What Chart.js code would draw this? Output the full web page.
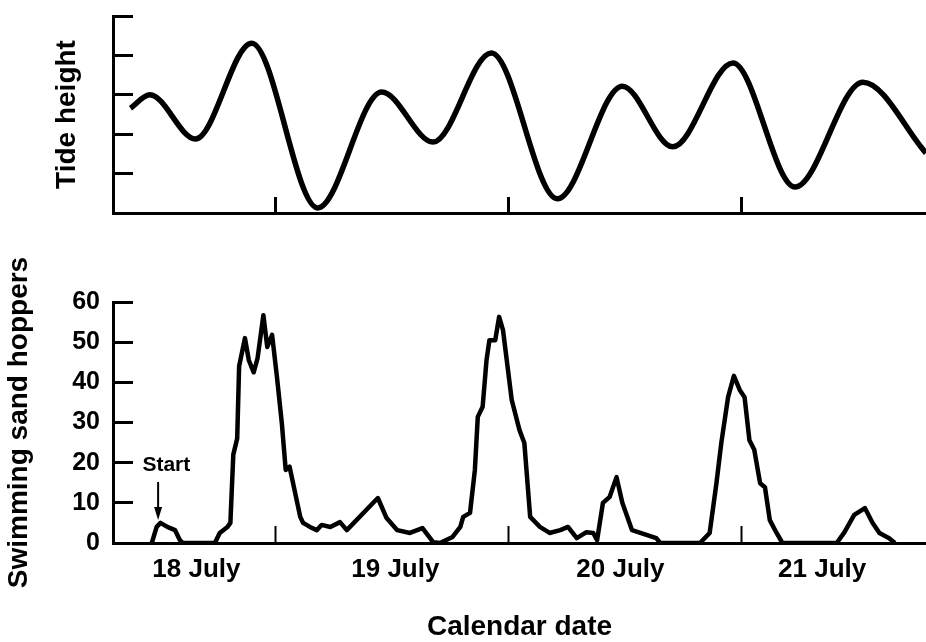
<!DOCTYPE html>
<html><head><meta charset="utf-8">
<script src="https://cdn.jsdelivr.net/npm/chart.js@4.4.1/dist/chart.umd.min.js"></script>
<style>
html,body{margin:0;padding:0;background:#fff;overflow:hidden;width:926px;height:642px}
#top{position:absolute;left:0;top:0;width:926px;height:240px}
#bot{position:absolute;left:0;top:240px;width:926px;height:402px}
</style></head><body>
<div id="top"><canvas id="c1" width="926" height="240"></canvas></div>
<div id="bot"><canvas id="c2" width="926" height="402"></canvas></div>
<script>
// ---- data (x = hours from 00:00 on 18 July) ----
const tideHours   = [33.0, 35.0, 39.7, 45.5, 52.3, 58.9, 64.2, 70.2, 77.0, 83.7, 88.9, 95.1, 101.5, 108.5, 115.0];
const tideHeights = [2.66, 3.00, 1.88, 4.31, 0.13, 3.07, 1.80, 4.06, 0.36, 3.22, 1.68, 3.81, 0.66, 3.32, 1.52];

const hopperHours  = [35.2, 35.7, 36.1, 36.8, 37.6, 38.1, 38.4, 41.7, 42.2, 43.0, 43.3, 43.6, 44.0, 44.2, 44.8, 45.2, 45.7, 46.1, 46.7, 47.1, 47.6, 48.1, 48.6, 49.0, 49.4, 50.5, 50.8, 51.5, 52.2, 52.7, 53.6, 54.6, 55.3, 58.5, 59.4, 60.5, 61.8, 63.1, 64.2, 64.9, 66.2, 67.0, 67.3, 68.0, 68.5, 68.8, 69.3, 69.7, 70.0, 70.6, 71.0, 71.4, 72.3, 73.1, 73.6, 74.2, 75.2, 76.2, 77.3, 78.1, 79.0, 80.0, 80.7, 81.1, 81.7, 82.4, 83.1, 83.7, 84.7, 87.2, 87.6, 90.6, 91.7, 92.7, 93.4, 93.9, 94.6, 95.2, 95.8, 96.3, 96.8, 97.3, 97.9, 98.4, 98.9, 99.6, 100.2, 105.8, 106.6, 107.6, 108.7, 109.5, 110.2, 111.2, 111.8];
const hopperCounts = [0, 4, 5, 4, 3.2, 0.7, 0, 0, 2.5, 4, 5, 22, 26, 44, 51, 45.5, 42.5, 46, 56.7, 48.8, 51.8, 41.3, 29.9, 18.2, 19, 6.5, 5, 4, 3.2, 4.5, 4, 5.2, 3.2, 11.2, 6.2, 3.2, 2.5, 3.7, 0.2, 0, 1.5, 4, 6.5, 7.5, 18.2, 31.4, 33.9, 45.5, 50.5, 50.5, 56.3, 53, 35.6, 28.1, 24.9, 6.5, 4, 2.5, 3.2, 4, 1.2, 2.7, 2.5, 0.7, 10, 11.5, 16.4, 10, 3.2, 1.2, 0, 0, 0, 2.5, 14.9, 24.9, 36.3, 41.6, 38.1, 36.3, 25.6, 23.2, 14.9, 13.9, 5.7, 2.5, 0, 0, 2.7, 7, 8.7, 5, 2.5, 1.2, 0];

const dayLabels     = ['18 July', '19 July', '20 July', '21 July'];
const dayLabelHours = [39.8, 60.3, 83.5, 104.3];
const midnightHours = [48, 72, 96];
const startNote = { text: 'Start', textHour: 36.7, textValue: 19.3, arrowHour: 35.85, arrowFrom: 15.2, arrowTo: 5.7 };

// ---- styling ----
const FONT = '"Liberation Sans", Arial, Helvetica, sans-serif';
Chart.defaults.font.family = FONT;
Chart.defaults.color = '#000';
const X_MIN = 31.2, X_MAX = 115;

function pts(xs, ys) { return xs.map((h, i) => ({ x: h, y: ys[i] })); }

const startPlugin = {
  id: 'startNote',
  afterDatasetsDraw(chart) {
    const { ctx, scales: { x, y } } = chart;
    ctx.save();
    ctx.fillStyle = '#000'; ctx.strokeStyle = '#000';
    ctx.font = 'bold 21px ' + FONT;
    ctx.textAlign = 'center'; ctx.textBaseline = 'middle';
    ctx.fillText(startNote.text, x.getPixelForValue(startNote.textHour), y.getPixelForValue(startNote.textValue));
    const ax = x.getPixelForValue(startNote.arrowHour);
    const y1 = y.getPixelForValue(startNote.arrowFrom), y2 = y.getPixelForValue(startNote.arrowTo);
    ctx.lineWidth = 2;
    ctx.beginPath(); ctx.moveTo(ax, y1); ctx.lineTo(ax, y2 - 8); ctx.stroke();
    ctx.beginPath(); ctx.moveTo(ax - 4, y2 - 13); ctx.lineTo(ax + 4, y2 - 13); ctx.lineTo(ax, y2); ctx.closePath(); ctx.fill();
    ctx.restore();
  }
};

// ---- top chart: tide height ----
new Chart(document.getElementById('c1'), {
  type: 'line',
  data: { datasets: [{ data: pts(tideHours, tideHeights), borderColor: '#000', borderWidth: 5.5, pointRadius: 0, cubicInterpolationMode: 'monotone', fill: false }] },
  options: {
    responsive: false, animation: false,
    layout: { padding: { top: 16, left: 0, right: 0, bottom: 0 } },
    plugins: { legend: { display: false }, tooltip: { enabled: false } },
    scales: {
      x: {
        type: 'linear', min: X_MIN, max: X_MAX,
        afterBuildTicks: s => { s.ticks = midnightHours.map(v => ({ value: v })); },
        afterFit: s => { s.height = 27; },
        ticks: { display: false, autoSkip: false },
        grid: { drawOnChartArea: false, drawTicks: true, tickLength: -16, tickWidth: 3, tickColor: '#000' },
        border: { display: true, color: '#000', width: 3 }
      },
      y: {
        min: 0, max: 5,
        ticks: { display: false, stepSize: 1 },
        afterFit: s => { s.width = 113; },
        grid: { drawOnChartArea: false, drawTicks: true, tickLength: -20, tickWidth: 3, tickColor: '#000' },
        border: { display: true, color: '#000', width: 3 },
        title: { display: true, text: 'Tide height', font: { size: 28, weight: 'bold', lineHeight: 1 }, padding: { top: 53, bottom: 0 }, color: '#000' }
      }
    }
  }
});

// ---- bottom chart: swimming sand hoppers ----
new Chart(document.getElementById('c2'), {
  type: 'line',
  data: { datasets: [{ data: pts(hopperHours, hopperCounts), borderColor: '#000', borderWidth: 4.5, pointRadius: 0, tension: 0, borderJoinStyle: 'round', fill: false }] },
  options: {
    responsive: false, animation: false,
    layout: { padding: { top: 62, left: 0, right: 0, bottom: 0 } },
    plugins: { legend: { display: false }, tooltip: { enabled: false } },
    scales: {
      x: {
        type: 'linear', min: X_MIN, max: X_MAX,
        afterBuildTicks: s => { s.ticks = midnightHours.concat(dayLabelHours).sort((a, b) => a - b).map(v => ({ value: v })); },
        afterFit: s => { s.height = 99; },
        ticks: {
          autoSkip: false, maxRotation: 0, padding: 31,
          font: { size: 26, weight: 'bold', lineHeight: 1 },
          callback: v => { const i = dayLabelHours.indexOf(v); return i >= 0 ? dayLabels[i] : ''; }
        },
        grid: {
          drawOnChartArea: false, drawTicks: true, tickLength: -17, tickWidth: 2,
          tickColor: c => (c.tick && midnightHours.includes(c.tick.value)) ? '#000' : 'rgba(0,0,0,0)'
        },
        border: { display: true, color: '#000', width: 3 },
        title: { display: true, text: 'Calendar date', font: { size: 28, weight: 'bold', lineHeight: 1 }, padding: { top: 0, bottom: 1 }, color: '#000' }
      },
      y: {
        min: 0, max: 60,
        afterFit: s => { s.width = 113; },
        ticks: { stepSize: 10, padding: 33, font: { size: 25, weight: 'bold', lineHeight: 1 } },
        grid: { drawOnChartArea: false, drawTicks: true, tickLength: -20, tickWidth: 3, tickColor: '#000' },
        border: { display: true, color: '#000', width: 3 },
        title: { display: true, text: 'Swimming sand hoppers', font: { size: 28, weight: 'bold', lineHeight: 1 }, padding: { top: 5, bottom: 0 }, color: '#000' }
      }
    }
  },
  plugins: [startPlugin]
});
</script>
</body></html>
